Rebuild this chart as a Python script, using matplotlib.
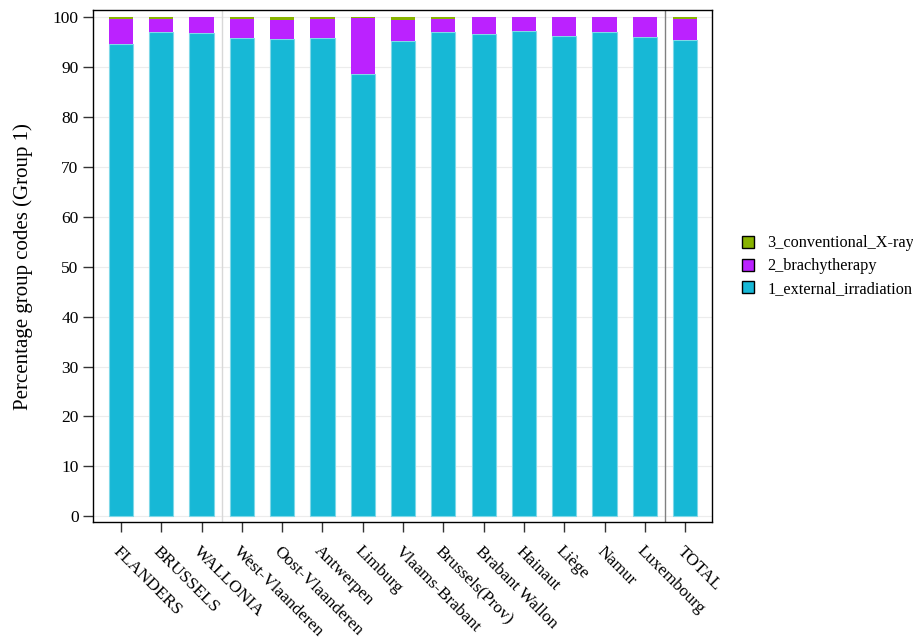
import matplotlib
matplotlib.use("Agg")
import matplotlib.pyplot as plt
import matplotlib.transforms as mtransforms
import numpy as np

categories = ["FLANDERS", "BRUSSELS", "WALLONIA", "West-Vlaanderen", "Oost-Vlaanderen",
              "Antwerpen", "Limburg", "Vlaams-Brabant", "Brussels(Prov)", "Brabant Wallon",
              "Hainaut", "Liège", "Namur", "Luxembourg", "TOTAL"]
external = [94.7, 97.1, 96.8, 95.9, 95.6, 95.9, 88.7, 95.2, 97.1, 96.7, 97.3, 96.3, 97.1, 96.0, 95.5]
brachy = [5.0, 2.5, 3.2, 3.8, 3.9, 3.8, 11.2, 4.3, 2.5, 3.3, 2.7, 3.7, 2.9, 4.0, 4.2]
xray = [0.3, 0.4, 0.0, 0.3, 0.5, 0.3, 0.1, 0.5, 0.4, 0.0, 0.0, 0.0, 0.0, 0.0, 0.3]
yticks = list(range(0, 101, 10))

plt.rcParams["font.family"] = ["Liberation Serif", "DejaVu Serif"]

fig = plt.figure(figsize=(9.13, 6.4), dpi=100)
ax = fig.add_axes([0.102, 0.184, 0.678, 0.800])

x = np.arange(len(categories))
ext = np.array(external)
bra = np.array(brachy)
xr = np.array(xray)

b1 = ax.bar(x, ext, width=0.6, color="#17b8d6", edgecolor="#7fd8e8", linewidth=0.8,
            label="1_external_irradiation", zorder=3)
b2 = ax.bar(x, bra, bottom=ext, width=0.6, color="#bb22ff", linewidth=0,
            label="2_brachytherapy", zorder=3)
b3 = ax.bar(x, xr, bottom=ext + bra, width=0.6, color="#88b300", linewidth=0,
            label="3_conventional_X-ray", zorder=3)

ax.set_xlim(-0.69, 14.67)
ax.set_ylim(-1.2, 101.4)
ax.set_yticks(yticks)
ax.set_yticklabels([str(v) for v in yticks], fontsize=12.5)
ax.yaxis.grid(True, color="#ececec", linewidth=0.8, zorder=0)
ax.set_axisbelow(True)

ax.axvline(2.5, color="#d8d8d8", linewidth=1.0, zorder=1)
ax.axvline(13.5, color="#808080", linewidth=1.0, zorder=1)

ax.set_xticks(x)
labels = ax.set_xticklabels(categories, rotation=-45, ha="left", va="top",
                            rotation_mode="anchor", fontsize=12.5)
offset = mtransforms.ScaledTranslation(-14 / 100, 0, fig.dpi_scale_trans)
for lab in labels:
    lab.set_transform(lab.get_transform() + offset)

ax.tick_params(axis="both", direction="out", length=7, width=1, color="#333333")
ax.tick_params(axis="x", pad=8)
for s in ax.spines.values():
    s.set_linewidth(1.0)
    s.set_color("black")

ax.set_ylabel("Percentage group codes (Group 1)", fontsize=15, labelpad=14)

handles = [b3, b2, b1]
ax.legend(handles=handles, labels=[h.get_label() for h in handles],
          loc="center left", bbox_to_anchor=(1.025, 0.5), frameon=False,
          fontsize=11.7, handlelength=0.75, handleheight=0.75, handletextpad=0.8,
          labelspacing=0.42)
for h in ax.get_legend().legend_handles:
    h.set_edgecolor("black")
    h.set_linewidth(1.0)

fig.savefig("out.png", dpi=100)
